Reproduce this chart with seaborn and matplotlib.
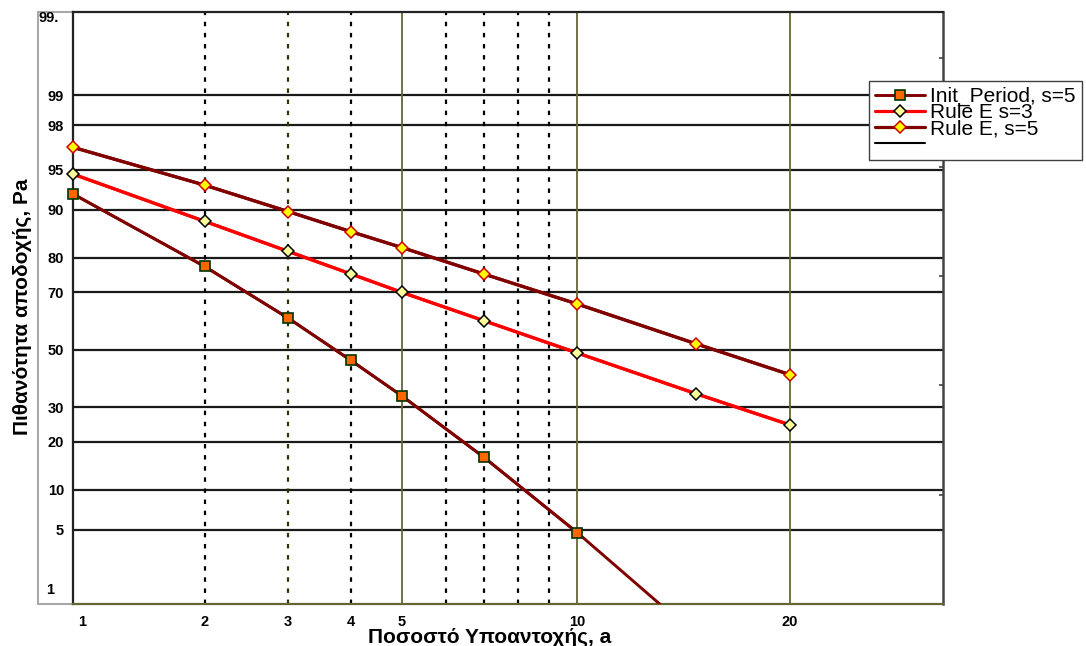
import numpy as np
import matplotlib
matplotlib.use('Agg')
import matplotlib.pyplot as plt
import matplotlib.transforms as mtransforms
from matplotlib.lines import Line2D
from matplotlib.patches import Rectangle
from matplotlib.ticker import NullLocator
import seaborn as sns
from statistics import NormalDist

# percent defective (x) and acceptance probability in % (y)
x_pct = [1, 2, 3, 4, 5, 7, 10, 15, 20]
init_period_s5 = [92.3, 77.7, 61.4, 46.1, 33.6, 16.3, 4.7, 0.45]
rule_e_s3 = [94.6, 88.0, 81.6, 75.6, 70.0, 60.5, 48.8, 34.4, 24.6]
rule_e_s5 = [96.8, 93.4, 89.7, 86.0, 82.5, 75.6, 66.2, 52.2, 41.0]

series_names = ['Init_Period, s=5', 'Rule E s=3', 'Rule E, s=5']

y_ticks = [1, 5, 10, 20, 30, 50, 70, 80, 90, 95, 98, 99, 99.9]
y_labels = ['1', '5', '10', '20', '30', '50', '70', '80', '90', '95', '98', '99', '99.']
x_ticks = [1, 2, 3, 4, 5, 10, 20]
x_labels = ['1', '2', '3', '4', '5', '10', '20']
x_dotted = [2, 4, 6, 7, 8, 9]
x_dashed = [3]
x_solid = [5, 10, 20]
x_lim = (1, 30)
y_lim = (1, 99.9)
right_ticks = [1, 2, 3, 4, 5]

# normal probability paper scale (percent <-> z)
nd = NormalDist()
_ppf = np.vectorize(nd.inv_cdf, otypes=[float])
_cdf = np.vectorize(nd.cdf, otypes=[float])


def to_z(p):
    p = np.clip(np.asarray(p, dtype=float) / 100.0, 1e-9, 1 - 1e-9)
    return _ppf(p)


def from_z(z):
    return _cdf(np.asarray(z, dtype=float)) * 100.0


sns.set_theme(style='white')
plt.rcParams['font.family'] = ['Liberation Sans', 'DejaVu Sans']
plt.rcParams['text.color'] = 'black'
plt.rcParams['axes.labelcolor'] = 'black'

W, H = 1086, 646
fig = plt.figure(figsize=(W / 100, H / 100), dpi=100)
ax = fig.add_axes([73 / W, 1 - 604 / H, 870 / W, 592 / H])
ax.set_xscale('function', functions=(to_z, from_z))
ax.set_yscale('function', functions=(to_z, from_z))
ax.set_xlim(*x_lim)
ax.set_ylim(*y_lim)

# grid
for v in y_ticks[1:-1]:
    ax.axhline(v, color='#1a1a1a', lw=1.6, zorder=1)
for v in x_dotted:
    ax.axvline(v, color='black', lw=1.6, ls=(0, (2, 3)), zorder=1)
for v in x_dashed:
    ax.axvline(v, color='#333300', lw=1.6, ls=(0, (2, 3)), zorder=1)
for v in x_solid:
    ax.axvline(v, color='#666633', lw=1.3, zorder=1)

styles = [
    dict(color='#800000', lw=2.1, marker='s', ms=7.5, mfc='#FF6600', mec='#003300', mew=1.2),
    dict(color='#FF0000', lw=2.3, marker='D', ms=6, mfc='#FFFF99', mec='black', mew=1.1),
    dict(color='#800000', lw=2.3, marker='D', ms=6, mfc='#FFFF00', mec='#CC0000', mew=1.1),
]
all_series = [init_period_s5, rule_e_s3, rule_e_s5]

for name, vals, st in zip(series_names, all_series, styles):
    xs = np.array(x_pct[:len(vals)], dtype=float)
    ys = np.array(vals, dtype=float)
    # full line, clipped at the frame
    sns.lineplot(x=xs, y=ys, ax=ax, color=st['color'], lw=st['lw'], legend=False,
                 sort=False, zorder=3)
    # markers on the visible range, not clipped at the edges
    keep = (ys >= y_lim[0]) & (ys <= y_lim[1])
    sns.lineplot(x=xs[keep], y=ys[keep], ax=ax, legend=False, sort=False, zorder=4,
                 clip_on=False, **st)

# ticks
ax.set_xticks(x_ticks, x_labels)
ax.set_yticks(y_ticks, y_labels)
ax.xaxis.set_minor_locator(NullLocator())
ax.yaxis.set_minor_locator(NullLocator())
ax.tick_params(axis='both', length=0, labelsize=10.5, colors='black')
ax.tick_params(axis='x', pad=8)
ax.tick_params(axis='y', pad=6.5)
for lab in ax.get_xticklabels() + ax.get_yticklabels():
    lab.set_fontweight('bold')


def nudge(lab, dx, dy):
    off = mtransforms.ScaledTranslation(dx / 100, dy / 100, fig.dpi_scale_trans)
    lab.set_transform(lab.get_transform() + off)


ylabs = ax.get_yticklabels()
nudge(ylabs[0], -10, 16)
nudge(ylabs[-1], -5, -4)
nudge(ax.get_xticklabels()[0], 9, 0)

# spines
for side, col, lw in [('left', '#222222', 1.6), ('top', '#222222', 1.6),
                      ('bottom', '#666633', 1.6), ('right', '#444444', 1.8)]:
    ax.spines[side].set_visible(True)
    ax.spines[side].set_color(col)
    ax.spines[side].set_linewidth(lw)

# grey frame round the y tick labels
ax.add_patch(Rectangle((-35 / 870, 0), 35 / 870, 1, transform=ax.transAxes, fill=False,
                       edgecolor='#a8a8a8', lw=1.5, clip_on=False, zorder=0))

# right side ticks (one standard deviation apart, from the bottom)
ax2 = ax.twinx()
ax2.set_ylim(0, float(to_z(y_lim[1]) - to_z(y_lim[0])))
ax2.set_yticks(right_ticks)
ax2.tick_params(axis='y', right=True, direction='in', length=3, width=1.2,
                color='#444444', labelright=False)
for s in ax2.spines.values():
    s.set_visible(False)

# axis labels
ax.set_xlabel('Ποσοστό Υποαντοχής, a', fontsize=15, fontweight='bold', color='black')
ax.xaxis.set_label_coords((490 - 73) / 870, -(628 - 604) / 592)
ax.set_ylabel('Πιθανότητα αποδοχής, Pa', fontsize=15, fontweight='bold', color='black')
ax.yaxis.label.set_va('center')
ax.yaxis.set_label_coords((22 - 73) / 870, (604 - 307) / 592)

# legend
handles = [Line2D([], [], **st) for st in styles]
handles.append(Line2D([], [], color='black', lw=1.5))
labels = series_names + ['']
leg = fig.legend(handles, labels, loc='upper left', bbox_to_anchor=(869 / W, 1 - 81 / H),
                 frameon=True, fancybox=False, edgecolor='#404040', framealpha=1,
                 prop={'size': 15}, handlelength=2.4, handletextpad=0.25,
                 labelspacing=-0.15, borderpad=0.3, borderaxespad=0)
leg.get_frame().set_linewidth(1.0)
for t in leg.get_texts():
    t.set_color('black')

fig.savefig('out.png', dpi=100)
